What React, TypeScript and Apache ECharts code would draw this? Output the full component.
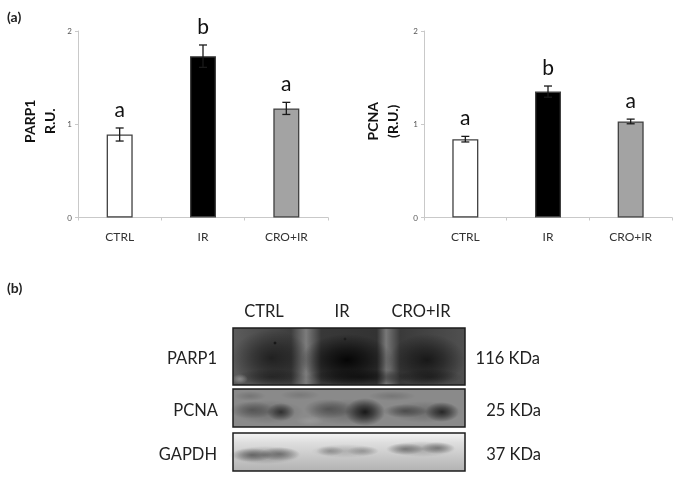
import React, { useEffect, useRef } from "react";
import * as echarts from "echarts";

const categories = ["CTRL", "IR", "CRO+IR"];
const parp1Values = [0.89, 1.73, 1.17];
const parp1Errors = [0.07, 0.12, 0.065];
const parp1Letters = ["a", "b", "a"];
const pcnaValues = [0.84, 1.35, 1.03];
const pcnaErrors = [0.03, 0.06, 0.025];
const pcnaLetters = ["a", "b", "a"];
const barFills = ["#ffffff", "#000000", "#a3a3a3"];
const yTicks = [0, 1, 2];
const blotRows = ["PARP1", "PCNA", "GAPDH"];
const blotSizes = ["116 KDa", "25 KDa", "37 KDa"];

const FONT = "Lato, 'Open Sans', sans-serif";

function blob(cx: number, cy: number, rx: number, ry: number, alpha: number, tone = "0,0,0") {
  return {
    type: "ellipse",
    shape: { cx, cy, rx, ry },
    silent: true,
    style: {
      fill: {
        type: "radial", x: 0.5, y: 0.5, r: 0.5,
        colorStops: [
          { offset: 0, color: `rgba(${tone},${alpha})` },
          { offset: 0.45, color: `rgba(${tone},${alpha * 0.6})` },
          { offset: 1, color: `rgba(${tone},0)` },
        ],
      },
    },
  };
}

function panel(y: number, h: number, fill: any) {
  return { type: "rect", shape: { x: 233, y, width: 232, height: h }, silent: true, style: { fill } };
}

function frame(y: number, h: number) {
  return {
    type: "rect", shape: { x: 233, y, width: 232, height: h }, silent: true,
    style: { fill: "none", stroke: "#1c1c1c", lineWidth: 1.5 },
  };
}

function label(text: string, x: number, y: number, align: string, size = 16.5, weight = "normal") {
  return {
    type: "text", x, y, silent: true,
    style: { text, fontFamily: FONT, fontSize: size, fontWeight: weight, fill: "#222222", align, verticalAlign: "middle" },
  };
}

function blotGraphics() {
  const hGrad = (stops: [number, string][]) => ({
    type: "linear", x: 0, y: 0, x2: 1, y2: 0,
    colorStops: stops.map(([offset, color]) => ({ offset, color })),
  });
  const vGrad = (stops: [number, string][]) => ({
    type: "linear", x: 0, y: 0, x2: 0, y2: 1,
    colorStops: stops.map(([offset, color]) => ({ offset, color })),
  });
  return [
    panel(328, 57, hGrad([
      [0, "#5c5c5c"], [0.25, "#3e3e3e"], [0.315, "#7c7c7c"], [0.38, "#383838"],
      [0.62, "#333333"], [0.66, "#787878"], [0.72, "#3a3a3a"], [1, "#505050"],
    ])),
    blob(271, 358, 40, 28, 0.55),
    blob(347, 360, 46, 26, 0.9),
    blob(427, 360, 38, 26, 0.65),
    blob(271, 377, 36, 8, 0.35),
    blob(360, 377, 55, 8, 0.55),
    blob(430, 377, 32, 8, 0.4),
    blob(240, 379, 8, 5, 0.4, "215,215,215"),
    blob(275, 343, 2, 2, 0.8),
    blob(345, 339, 2, 2, 0.5),

    panel(389, 38, "#8a8a8a"),
    blob(252, 410, 22, 9, 0.3),
    blob(281, 412, 14, 9, 0.6),
    blob(268, 412, 36, 12, 0.2),
    blob(328, 409, 24, 10, 0.32),
    blob(365, 412, 20, 14, 0.8),
    blob(348, 412, 40, 13, 0.22),
    blob(405, 411, 22, 7, 0.38),
    blob(442, 412, 17, 10, 0.68),
    blob(425, 412, 38, 11, 0.22),
    blob(250, 396, 16, 5, 0.15),
    blob(300, 395, 20, 5, 0.12),
    blob(392, 396, 24, 5, 0.14),
    blob(310, 421, 14, 5, 0.12, "255,255,255"),

    panel(433, 38, vGrad([[0, "#f4f4f4"], [0.25, "#dedede"], [1, "#b2b2b2"]])),
    blob(265, 455, 36, 9, 0.28),
    blob(252, 455, 20, 7, 0.38),
    blob(280, 454, 20, 7, 0.34),
    blob(345, 451, 34, 7, 0.16),
    blob(330, 451, 14, 5, 0.24),
    blob(363, 451, 16, 5, 0.22),
    blob(422, 449, 34, 8, 0.22),
    blob(405, 449, 19, 6, 0.36),
    blob(438, 448, 17, 6, 0.36),

    frame(328, 57),
    frame(389, 38),
    frame(433, 38),

    label(categories[0], 264, 311, "center"),
    label(categories[1], 342, 311, "center"),
    label(categories[2], 421, 311, "center"),
    label(blotRows[0], 217, 358, "right"),
    label(blotRows[1], 218, 410, "right"),
    label(blotRows[2], 217, 454, "right"),
    label(blotSizes[0], 540, 358, "right"),
    label(blotSizes[1], 541, 410, "right"),
    label(blotSizes[2], 541, 454, "right"),
    label("(a)", 7, 16, "left", 14, "bold"),
    label("(b)", 7, 287, "left", 14, "bold"),
  ];
}

function errorSeries(index: number, values: number[], errors: number[], letters: string[]) {
  return {
    type: "custom",
    xAxisIndex: index,
    yAxisIndex: index,
    silent: true,
    z: 5,
    data: values.map((v, i) => [i, v, errors[i]]),
    renderItem: (params: any, api: any) => {
      const i = api.value(0), v = api.value(1), e = api.value(2);
      const top = api.coord([i, v + e]);
      const low = api.coord([i, v - e]);
      const x = top[0];
      const stroke = { stroke: "#1a1a1a", lineWidth: 1.3, fill: "none" };
      return {
        type: "group",
        children: [
          { type: "line", shape: { x1: x, y1: top[1], x2: x, y2: low[1] }, style: stroke },
          { type: "line", shape: { x1: x - 4, y1: top[1], x2: x + 4, y2: top[1] }, style: stroke },
          { type: "line", shape: { x1: x - 4, y1: low[1], x2: x + 4, y2: low[1] }, style: stroke },
          {
            type: "text", x, y: top[1] - 9,
            style: { text: letters[params.dataIndex], fontFamily: FONT, fontSize: 21, fill: "#111111", align: "center", verticalAlign: "bottom" },
          },
        ],
      };
    },
  };
}

function barSeries(index: number, values: number[]) {
  return {
    type: "bar",
    xAxisIndex: index,
    yAxisIndex: index,
    barWidth: 26,
    silent: true,
    data: values.map((value, i) => ({
      value,
      itemStyle: { color: barFills[i], borderColor: "#404040", borderWidth: 1.3 },
    })),
  };
}

function yAxis(gridIndex: number, name: string, nameGap: number) {
  return {
    type: "value", gridIndex, min: yTicks[0], max: yTicks[yTicks.length - 1], interval: 1,
    name, nameLocation: "middle", nameGap, nameRotate: 90,
    nameTextStyle: { fontFamily: FONT, fontSize: 14, fontWeight: "bold", color: "#111111", lineHeight: 20, padding: [0, 0, 0, 6] },
    axisLine: { show: true, lineStyle: { color: "#c9c9c9", width: 1 } },
    axisTick: { show: true, length: 3, lineStyle: { color: "#c9c9c9" } },
    axisLabel: { fontFamily: FONT, fontSize: 8, color: "#555555", margin: 6 },
    splitLine: { show: false },
  };
}

function xAxis(gridIndex: number) {
  return {
    type: "category", gridIndex, data: categories,
    axisLine: { lineStyle: { color: "#c9c9c9", width: 1 } },
    axisTick: { show: true, length: 3, alignWithLabel: false, lineStyle: { color: "#c9c9c9" } },
    axisLabel: { fontFamily: FONT, fontSize: 12, color: "#333333", margin: 13 },
  };
}

export default function App() {
  const ref = useRef<HTMLDivElement>(null);
  useEffect(() => {
    if (!ref.current) return;
    const chart = echarts.init(ref.current, undefined, { renderer: "svg" });
    chart.setOption({
      animation: false,
      backgroundColor: "#ffffff",
      grid: [
        { left: 78, width: 250, top: 31, height: 186.5 },
        { left: 424, width: 248, top: 31, height: 186.5 },
      ],
      xAxis: [xAxis(0), xAxis(1)],
      yAxis: [yAxis(0, "PARP1\nR.U.", 19), yAxis(1, "PCNA\n(R.U.)", 22)],
      series: [
        barSeries(0, parp1Values),
        barSeries(1, pcnaValues),
        errorSeries(0, parp1Values, parp1Errors, parp1Letters),
        errorSeries(1, pcnaValues, pcnaErrors, pcnaLetters),
      ],
      graphic: { elements: blotGraphics() },
    });
    return () => chart.dispose();
  }, []);
  return <div ref={ref} style={{ position: "absolute", left: 0, top: 0, width: 679, height: 477, filter: "blur(0.35px)" }} />;
}
